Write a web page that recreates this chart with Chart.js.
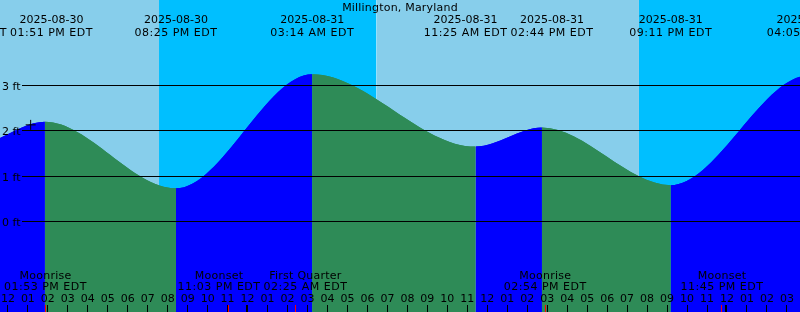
<!DOCTYPE html>
<html>
<head>
<meta charset="utf-8">
<title>Millington, Maryland</title>
<script src="https://cdn.jsdelivr.net/npm/chart.js@4/dist/chart.umd.min.js"></script>
<style>
  html, body { margin: 0; padding: 0; background: #fff; }
  #wrap { width: 800px; height: 312px; }
</style>
</head>
<body>
<div id="wrap"><canvas id="tides" width="800" height="312"></canvas></div>
<script>
// Tide graph for Millington, Maryland, 2025-08-30 .. 2025-09-01
// All x values are hours after 2025-08-30 12:00 PM EDT

const STATION = 'Millington, Maryland';

// High / low tides (first two and last one fall off the graph)
const tideHours = [-9.58, -1.8167, 1.85, 8.4167, 15.2333, 23.4167, 26.7333, 33.1833, 40.0833, 48.2];
const tideFeet  = [3.2, 1.66, 2.20, 0.73, 3.25, 1.65, 2.07, 0.80, 3.22, 1.7];
const tideDates = ['2025-08-30', '2025-08-30', '2025-08-30', '2025-08-30', '2025-08-31',
                   '2025-08-31', '2025-08-31', '2025-08-31', '2025-09-01', '2025-09-01'];
const tideClock = ['02:25 AM EDT', '10:11 AM EDT', '01:51 PM EDT', '08:25 PM EDT', '03:14 AM EDT',
                   '11:25 AM EDT', '02:44 PM EDT', '09:11 PM EDT', '04:05 AM EDT', '12:12 PM EDT'];

// Sky bands: edges and whether the band after each edge is night
const skyEdges = [-1, 7.565, 18.46, 31.594, 41];
const skyNight = [false, true, false, true];

// Moon events
const moonHours = [1.8833, 11.05, 14.4167, 26.9, 35.75];
const moonNames = ['Moonrise', 'Moonset', 'First Quarter', 'Moonrise', 'Moonset'];
const moonClock = ['01:53 PM EDT', '11:03 PM EDT', '02:25 AM EDT', '02:54 PM EDT', '11:45 PM EDT'];

// Hour ticks, one per hour starting at noon
const hourLabels = ['12', '01', '02', '03', '04', '05', '06', '07', '08', '09', '10', '11',
                    '12', '01', '02', '03', '04', '05', '06', '07', '08', '09', '10', '11',
                    '12', '01', '02', '03', '04', '05', '06', '07', '08', '09', '10', '11',
                    '12', '01', '02', '03'];
const midnightHours = [12, 36];

// Depth lines
const depthTicks = [0, 1, 2, 3];

// Current-time mark
const nowHour = 1.14;
const nowFeet = 2.13;

const X_MIN = -0.3955, X_MAX = 39.655;
const Y_MIN = -2, Y_MAX = 4.886;

const DAY = '#87ceeb';
const NIGHT = '#00bfff';
const RISING = '#0000ff';
const FALLING = '#2e8b57';
const FONT = '11px "DejaVu Sans"';
const LABEL_PAD = 3;

/**
 * Push overlapping labels apart, half each way
 */
function spreadLabels(centers, widths) {
  const out = centers.slice();
  for (let i = 1; i < out.length; i++) {
    const need = (widths[i - 1] + widths[i]) / 2 + LABEL_PAD;
    const gap = out[i] - out[i - 1];
    if (gap < need) {
      const shift = (need - gap) / 2;
      out[i - 1] -= shift;
      out[i] += shift;
    }
  }
  return out;
}

function textWidth(ctx, str, spacing) {
  ctx.letterSpacing = spacing;
  return ctx.measureText(str).width;
}

function drawText(ctx, str, x, y, spacing) {
  ctx.letterSpacing = spacing;
  ctx.fillText(str, x, y);
}

const overlay = {
  id: 'overlay',
  afterDatasetsDraw(chart) {
    const { ctx, chartArea } = chart;
    const xs = chart.scales.x;
    const ys = chart.scales.y;
    ctx.save();
    ctx.font = FONT;
    ctx.fillStyle = '#000';
    ctx.strokeStyle = '#000';
    ctx.lineWidth = 1;

    // depth lines + labels
    ctx.textAlign = 'left';
    depthTicks.forEach(v => {
      const py = Math.floor(ys.getPixelForValue(v)) + 0.5;
      ctx.beginPath();
      ctx.moveTo(22, py);
      ctx.lineTo(chartArea.right, py);
      ctx.stroke();
      drawText(ctx, v + ' ft', 2, py + 4.5, '0px');
    });

    ctx.textAlign = 'center';

    // title
    drawText(ctx, STATION, (chartArea.left + chartArea.right) / 2, 11, '0.2px');

    // tide event labels
    const tideX = tideHours.map(h => xs.getPixelForValue(h));
    const tideW = tideHours.map((h, i) => Math.max(textWidth(ctx, tideDates[i], '0px'), textWidth(ctx, tideClock[i], '0.5px')));
    const tideC = spreadLabels(tideX, tideW);
    tideC.forEach((cx, i) => {
      drawText(ctx, tideDates[i], cx, 23.2, '0px');
      drawText(ctx, tideClock[i], cx, 36, '0.5px');
    });

    // moon event labels
    const moonX = moonHours.map(h => xs.getPixelForValue(h));
    const moonW = moonHours.map((h, i) => Math.max(textWidth(ctx, moonNames[i], '0.25px'), textWidth(ctx, moonClock[i], '0.5px')));
    const moonC = spreadLabels(moonX, moonW);
    moonC.forEach((cx, i) => {
      drawText(ctx, moonNames[i], cx, 278.5, '0.25px');
      drawText(ctx, moonClock[i], cx, 289.5, '0.5px');
    });

    // hour ticks
    ctx.letterSpacing = '0px';
    hourLabels.forEach((lab, h) => {
      const px = xs.getPixelForValue(h);
      ctx.fillStyle = '#000';
      ctx.fillText(lab, px, 301.5);
      if (midnightHours.includes(h)) {
        ctx.fillRect(Math.floor(px) - 1, 305, 2, 7);
      } else {
        ctx.fillRect(Math.floor(px), 305, 1, 7);
      }
    });

    // moon event ticks
    ctx.fillStyle = '#ff0000';
    moonHours.forEach(h => {
      const px = xs.getPixelForValue(h);
      ctx.fillRect(Math.floor(px), 305, 1, 7);
    });

    ctx.restore();
  }
};

const tidePoints = tideHours.map((h, i) => ({ x: h, y: tideFeet[i] }));
const tideColour = c => (c.p1.parsed.y > c.p0.parsed.y ? RISING : FALLING);

const ctx = document.getElementById('tides').getContext('2d');

new Chart(ctx, {
  type: 'line',
  data: {
    datasets: [
      {
        label: 'Now',
        type: 'scatter',
        data: [{ x: nowHour, y: nowFeet }],
        showLine: false,
        pointStyle: 'cross',
        pointRadius: 5,
        pointBorderColor: '#000',
        pointBorderWidth: 1,
        order: 0,
      },
      {
        label: 'Tide',
        data: tidePoints,
        cubicInterpolationMode: 'monotone',
        fill: 'start',
        borderWidth: 0,
        borderColor: 'rgba(0,0,0,0)',
        backgroundColor: RISING,
        pointRadius: 0,
        segment: { backgroundColor: tideColour },
        order: 1,
      },
      {
        // same water drawn twice so the rising/falling seams stay solid
        label: 'Tide under',
        data: tidePoints,
        cubicInterpolationMode: 'monotone',
        fill: 'start',
        borderWidth: 0,
        borderColor: 'rgba(0,0,0,0)',
        backgroundColor: RISING,
        pointRadius: 0,
        segment: { backgroundColor: tideColour },
        order: 2,
      },
      {
        label: 'Sky',
        data: skyEdges.map(h => ({ x: h, y: Y_MAX })),
        fill: 'start',
        borderWidth: 0,
        borderColor: 'rgba(0,0,0,0)',
        backgroundColor: DAY,
        pointRadius: 0,
        segment: {
          backgroundColor: c => (skyNight[c.p0DataIndex] ? NIGHT : DAY),
        },
        order: 3,
      },
    ],
  },
  options: {
    responsive: false,
    animation: false,
    devicePixelRatio: 1,
    events: [],
    layout: { padding: 0, autoPadding: false },
    plugins: {
      legend: { display: false },
      tooltip: { enabled: false },
    },
    scales: {
      x: { type: 'linear', min: X_MIN, max: X_MAX, display: false },
      y: { type: 'linear', min: Y_MIN, max: Y_MAX, display: false },
    },
  },
  plugins: [overlay],
});
</script>
</body>
</html>
